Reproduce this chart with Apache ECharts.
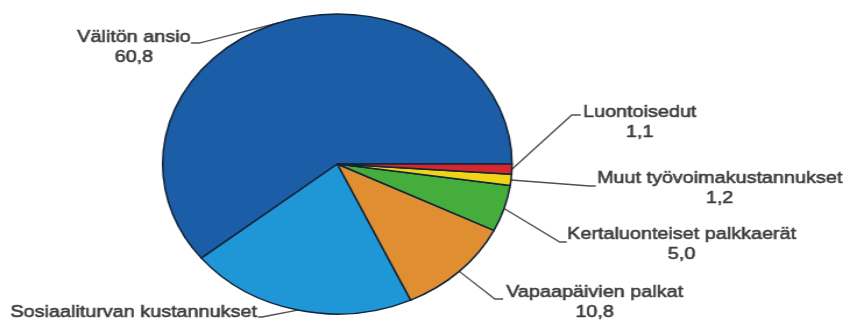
<!DOCTYPE html>
<html>
<head>
<meta charset="utf-8">
<script src="https://cdn.jsdelivr.net/npm/echarts@6/dist/echarts.min.js"></script>
<style>
  html, body { margin: 0; padding: 0; background: #ffffff; overflow: hidden; }
  #wrap { width: 843px; height: 321px; position: relative; overflow: hidden; }
  /* the chart is laid out narrower and widened horizontally, giving the oval pie */
  #chart { position: absolute; left: 0; top: 0; width: 724px; height: 321px;
           transform: scaleX(1.1644); transform-origin: 0 0; }
</style>
</head>
<body>
<div id="wrap"><div id="chart"></div></div>
<script>
// Työvoimakustannusten rakenne, %
const categories = [
  'Välitön ansio',
  'Sosiaaliturvan kustannukset',
  'Vapaapäivien palkat',
  'Kertaluonteiset palkkaerät',
  'Muut työvoimakustannukset',
  'Luontoisedut'
];
const values = [60.8, 21.1, 10.8, 5.0, 1.2, 1.1];
const showValue = [true, false, true, true, true, true];

const colors = ['#1b5da6', '#1f96d5', '#df8f31', '#45ad3b', '#f0d516', '#d6262f'];

// label placement (chart pixels before the horizontal stretch)
const labelPlaces = [
  { x: 115.0, y: 47,    align: 'center', elbow: [171.0, 43],  end: [164.0, 43] },
  { x: 220.6, y: 312,   align: 'right',  elbow: [225.0, 317], end: [221.5, 317] },
  { x: 510.7, y: 302.5, align: 'center', elbow: [425.0, 299], end: [432.0, 299] },
  { x: 585.4, y: 244,   align: 'center', elbow: [480.7, 242], end: [486.7, 242] },
  { x: 618.0, y: 188,   align: 'center', elbow: [506.4, 186], end: [511.6, 186] },
  { x: 549.4, y: 122,   align: 'center', elbow: [491.0, 115], end: [498.7, 115] }
];

const fmt = v => v.toFixed(1).replace('.', ',');

const chart = echarts.init(document.getElementById('chart'), null, { renderer: 'canvas' });
chart.setOption({
  animation: false,
  backgroundColor: '#ffffff',
  series: [{
    type: 'pie',
    center: [289.7, 164],
    radius: 150,
    startAngle: 0,
    clockwise: false,
    avoidLabelOverlap: false,
    itemStyle: { borderColor: '#142438', borderWidth: 1.5 },
    emphasis: { disabled: true },
    label: {
      show: true,
      position: 'outside',
      fontFamily: 'Liberation Sans, Arial, sans-serif',
      fontSize: 17,
      lineHeight: 20,
      color: '#3c3c3c',
      textBorderColor: '#4a4a4a',
      textBorderWidth: 0.6,
      formatter: p => showValue[p.dataIndex] ? p.name + '\n' + fmt(p.value) : p.name
    },
    labelLine: { show: true, lineStyle: { color: '#505050', width: 1.3 } },
    labelLayout: function (params) {
      const L = labelPlaces[params.dataIndex];
      const pts = params.labelLinePoints;
      const out = { x: L.x, y: L.y, align: L.align, verticalAlign: 'middle' };
      if (pts && pts.length) {
        out.labelLinePoints = [pts[0], L.elbow, L.end];
      }
      return out;
    },
    data: categories.map((name, i) => ({
      name: name,
      value: values[i],
      itemStyle: { color: colors[i] }
    }))
  }]
});
</script>
</body>
</html>
